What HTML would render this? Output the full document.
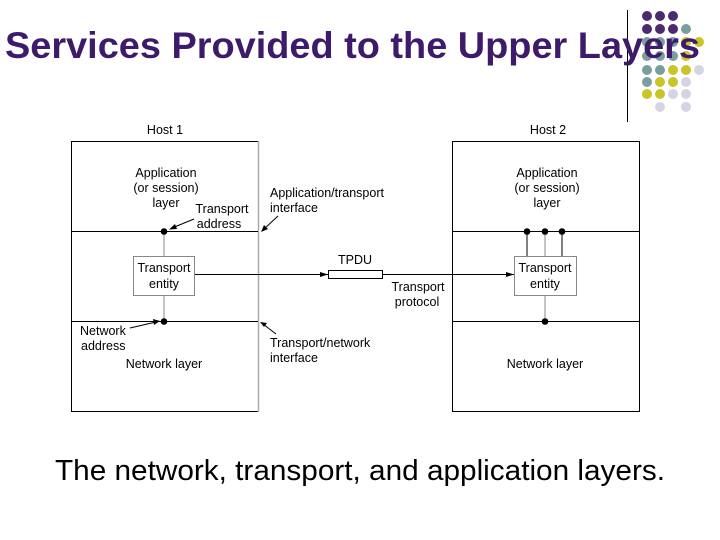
<!DOCTYPE html>
<html><head><meta charset="utf-8"><style>
body{margin:0;width:720px;height:540px;background:#fff;overflow:hidden;position:relative;font-family:"Liberation Sans",sans-serif}
</style></head><body>
<svg width="720" height="540" style="position:absolute;left:0;top:0" font-family="Liberation Sans, sans-serif">
<line x1="627.5" y1="10" x2="627.5" y2="122" stroke="#000" stroke-width="1"/>
<g>
<circle cx="647" cy="16" r="5" fill="#4b2a6e"/><circle cx="660" cy="16" r="5" fill="#4b2a6e"/><circle cx="673" cy="16" r="5" fill="#4b2a6e"/>
<circle cx="647" cy="29" r="5" fill="#4b2a6e"/><circle cx="660" cy="29" r="5" fill="#4b2a6e"/><circle cx="673" cy="29" r="5" fill="#4b2a6e"/><circle cx="686" cy="29" r="5" fill="#7a9e9e"/>
<circle cx="647" cy="42" r="5" fill="#7a9e9e"/><circle cx="660" cy="42" r="5" fill="#7a9e9e"/><circle cx="673" cy="42" r="5" fill="#7a9e9e"/><circle cx="686" cy="42" r="5" fill="#c9c428"/><circle cx="699" cy="42" r="5" fill="#c9c428"/>
<circle cx="647" cy="56" r="5" fill="#7a9e9e"/><circle cx="660" cy="56" r="5" fill="#7a9e9e"/><circle cx="673" cy="56" r="5" fill="#7a9e9e"/><circle cx="686" cy="56" r="5" fill="#c9c428"/>
<circle cx="647" cy="70" r="5" fill="#7a9e9e"/><circle cx="660" cy="70" r="5" fill="#7a9e9e"/><circle cx="673" cy="70" r="5" fill="#c9c428"/><circle cx="686" cy="70" r="5" fill="#c9c428"/><circle cx="699" cy="70" r="5" fill="#d4d4e4"/>
<circle cx="647" cy="82" r="5" fill="#7a9e9e"/><circle cx="660" cy="82" r="5" fill="#c9c428"/><circle cx="673" cy="82" r="5" fill="#c9c428"/><circle cx="686" cy="82" r="5" fill="#d4d4e4"/>
<circle cx="647" cy="94" r="5" fill="#c9c428"/><circle cx="660" cy="94" r="5" fill="#c9c428"/><circle cx="673" cy="94" r="5" fill="#d4d4e4"/><circle cx="686" cy="94" r="5" fill="#d4d4e4"/>
<circle cx="660" cy="107" r="5" fill="#d4d4e4"/><circle cx="686" cy="107" r="5" fill="#d4d4e4"/>
</g>
<text x="5" y="58" font-size="37" font-weight="bold" fill="#3d1a6a" textLength="695" lengthAdjust="spacingAndGlyphs">Services Provided to the Upper Layers</text>

<rect x="71.5" y="141.5" width="187" height="270" fill="none" stroke="#000"/>
<line x1="258.5" y1="141" x2="258.5" y2="412" stroke="#aaa" stroke-width="1.5"/>
<line x1="71" y1="231.5" x2="258" y2="231.5" stroke="#000"/>
<line x1="71" y1="321.5" x2="258" y2="321.5" stroke="#000"/>
<line x1="164" y1="231" x2="164" y2="321" stroke="#888"/>
<rect x="133.5" y="256.5" width="61" height="39" fill="#fff" stroke="#888"/>
<circle cx="164" cy="231.5" r="3.3" fill="#000"/><circle cx="164" cy="321.5" r="3.3" fill="#000"/>
<rect x="452.5" y="141.5" width="187" height="270" fill="none" stroke="#000"/>
<line x1="452" y1="231.5" x2="640" y2="231.5" stroke="#000"/>
<line x1="452" y1="321.5" x2="640" y2="321.5" stroke="#000"/>
<line x1="527" y1="231" x2="527" y2="256" stroke="#000"/><line x1="545" y1="231" x2="545" y2="256" stroke="#888"/><line x1="562" y1="231" x2="562" y2="256" stroke="#000"/>
<line x1="545" y1="295" x2="545" y2="321" stroke="#888"/>
<rect x="514.5" y="256.5" width="62" height="39" fill="#fff" stroke="#888"/>
<circle cx="527" cy="231.5" r="3.3" fill="#000"/><circle cx="545" cy="231.5" r="3.3" fill="#000"/><circle cx="562" cy="231.5" r="3.3" fill="#000"/><circle cx="545" cy="321.5" r="3.3" fill="#000"/>
<line x1="195" y1="274.5" x2="328" y2="274.5" stroke="#000"/>
<polygon points="328,274.5 320,272 320,277" fill="#000"/>
<rect x="328.5" y="270.5" width="54" height="8" fill="#fff" stroke="#000"/>
<line x1="383" y1="274.5" x2="514" y2="274.5" stroke="#000"/>
<polygon points="514,274.5 506,272 506,277" fill="#000"/>
<line x1="194" y1="219" x2="172" y2="228" stroke="#000"/><polygon points="169,229.5 175,224 177,229" fill="#000"/>
<line x1="278" y1="216" x2="263" y2="230" stroke="#000"/><polygon points="261,232 264,225 268,229" fill="#000"/>
<line x1="130" y1="328" x2="156" y2="322" stroke="#000"/><polygon points="160,321 153,319 154,325" fill="#000"/>
<line x1="276" y1="334" x2="263" y2="324" stroke="#000"/><polygon points="260,322 267,323 264,327" fill="#000"/>
<g font-size="12.5" fill="#000" text-anchor="middle">
<text x="165" y="134">Host 1</text><text x="548" y="134">Host 2</text>
<text x="166" y="177">Application</text><text x="166" y="192">(or session)</text><text x="166" y="207">layer</text>
<text x="547" y="177">Application</text><text x="547" y="192">(or session)</text><text x="547" y="207">layer</text>
<text x="222" y="213">Transport</text><text x="219" y="228">address</text>
<text x="164" y="272">Transport</text><text x="164" y="288">entity</text>
<text x="545" y="272">Transport</text><text x="545" y="288">entity</text>
<text x="355" y="264">TPDU</text>
<text x="418" y="291">Transport</text><text x="417" y="306">protocol</text>
<text x="164" y="368">Network layer</text><text x="545" y="368">Network layer</text>
</g>
<g font-size="12.5" fill="#000">
<text x="270" y="197">Application/transport</text><text x="270" y="212">interface</text>
<text x="270" y="347">Transport/network</text><text x="270" y="362">interface</text>
<text x="80" y="335">Network</text><text x="81" y="350">address</text>
</g>
<text x="55" y="480" font-size="29" fill="#000" textLength="610" lengthAdjust="spacingAndGlyphs">The network, transport, and application layers.</text>
</svg>
</body></html>
